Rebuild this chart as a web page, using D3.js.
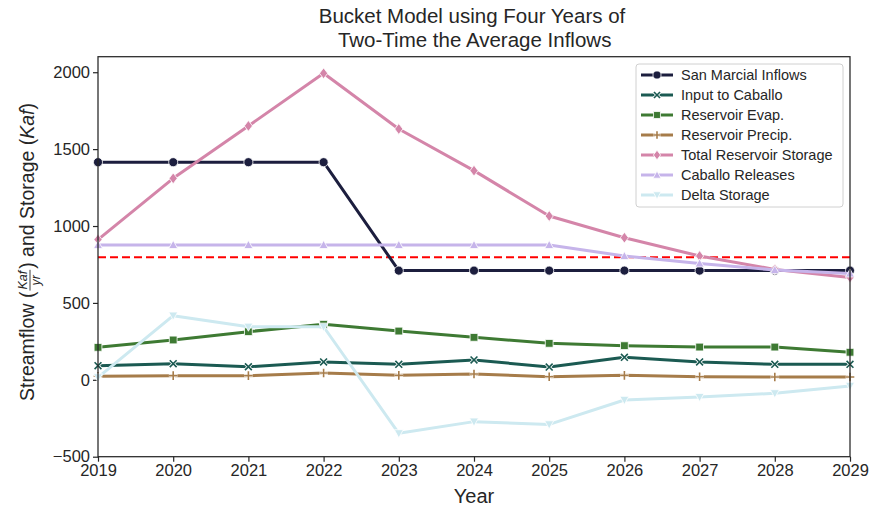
<!DOCTYPE html>
<html>
<head>
<meta charset="utf-8">
<script src="https://cdn.jsdelivr.net/npm/d3@7"></script>
<style>
  body { margin: 0; background: #fff; }
  svg { display: block; font-family: "Liberation Sans", Arial, sans-serif; }
</style>
</head>
<body>
<svg id="chart" width="870" height="512"></svg>
<script>
// Years on the x axis
const years = [2019, 2020, 2021, 2022, 2023, 2024, 2025, 2026, 2027, 2028, 2029];

// Series values (Kaf/yr for flows, Kaf for storage)
const sanMarcialInflows   = [1415, 1415, 1415, 1415, 710, 710, 710, 710, 710, 710, 710];
const inputToCaballo      = [92, 105, 85, 116, 101, 129, 83, 146, 116, 101, 101];
const reservoirEvap       = [211, 259, 313, 361, 317, 276, 237, 222, 213, 213, 179];
const reservoirPrecip     = [23, 27, 27, 44, 29, 38, 20, 29, 20, 18, 18];
const totalStorage        = [912, 1310, 1651, 1993, 1631, 1360, 1065, 924, 805, 718, 666];
const caballoReleases     = [877, 877, 877, 877, 877, 877, 877, 805, 757, 714, 692];
const deltaStorage        = [16, 417, 345, 345, -348, -272, -290, -131, -112, -88, -40];

// Threshold drawn as a dashed red line
const thresholdValue = 797;

const seriesNames = ["San Marcial Inflows", "Input to Caballo", "Reservoir Evap.",
  "Reservoir Precip.", "Total Reservoir Storage", "Caballo Releases", "Delta Storage"];
const seriesValues = [sanMarcialInflows, inputToCaballo, reservoirEvap, reservoirPrecip,
  totalStorage, caballoReleases, deltaStorage];
const seriesColors = ["#1c1e3e", "#1b5a52", "#3e7a33", "#a67c4a", "#d485a9", "#c6b4ea", "#cde9f0"];
const seriesMarkers = ["circle", "x", "square", "plus", "diamond", "triangleUp", "triangleDown"];

const yTicks = [-500, 0, 500, 1000, 1500, 2000];

const svg = d3.select("#chart");
const margin = { left: 98, right: 20, top: 56.7, bottom: 55.3 };
const W = 870, H = 512;

const x = d3.scaleLinear().domain([2019, 2029]).range([margin.left, W - margin.right]);
const y = d3.scaleLinear().domain([-500, 2101]).range([H - margin.bottom, margin.top]);

const textColor = "#262626";

// Axes
const xAxis = d3.axisBottom(x).tickValues(years).tickFormat(d3.format("d")).tickSize(5).tickPadding(3);
const yAxis = d3.axisLeft(y).tickValues(yTicks).tickFormat(d => d < 0 ? "\u2212" + Math.abs(d) : d).tickSize(5).tickPadding(3);

const gx = svg.append("g").attr("transform", `translate(0,${H - margin.bottom})`).call(xAxis);
const gy = svg.append("g").attr("transform", `translate(${margin.left},0)`).call(yAxis);
[gx, gy].forEach(g => {
  g.select(".domain").remove();
  g.selectAll(".tick line").attr("stroke", textColor).attr("stroke-width", 1.2);
  g.selectAll(".tick text").attr("fill", textColor).style("font-size", "16.5px")
    .style("font-family", "'Liberation Sans', Arial, sans-serif");
});

// Lines
const plot = svg.append("g");
const line = d3.line().x((d, i) => x(years[i])).y(d => y(d));

// Red dashed threshold
plot.append("line")
  .attr("x1", x(2019)).attr("x2", x(2029))
  .attr("y1", y(thresholdValue)).attr("y2", y(thresholdValue))
  .attr("stroke", "#ff0000").attr("stroke-width", 2).attr("stroke-dasharray", "8,4");

function markerPath(type, s) {
  switch (type) {
    case "circle": return d3.symbol(d3.symbolCircle, s * s * 0.8)();
    case "square": return d3.symbol(d3.symbolSquare, s * s * 0.75)();
    case "diamond": return `M0,${-s * 0.6}L${s * 0.45},0L0,${s * 0.6}L${-s * 0.45},0Z`;
    case "triangleUp": return `M0,${-s * 0.5}L${s * 0.5},${s * 0.4}L${-s * 0.5},${s * 0.4}Z`;
    case "triangleDown": return `M0,${s * 0.5}L${s * 0.5},${-s * 0.4}L${-s * 0.5},${-s * 0.4}Z`;
    case "x": { const a = s * 0.38; return `M${-a},${-a}L${a},${a}M${-a},${a}L${a},${-a}`; }
    case "plus": { const a = s * 0.48; return `M${-a},0L${a},0M0,${-a}L0,${a}`; }
  }
}

function drawMarker(g, type, color, cx, cy, s) {
  const p = markerPath(type, s);
  if (type === "x" || type === "plus") {
    g.append("path").attr("d", p).attr("transform", `translate(${cx},${cy})`)
      .attr("fill", "none").attr("stroke", "#fff").attr("stroke-width", 3.2);
    g.append("path").attr("d", p).attr("transform", `translate(${cx},${cy})`)
      .attr("fill", "none").attr("stroke", color).attr("stroke-width", 1.6);
  } else {
    g.append("path").attr("d", p).attr("transform", `translate(${cx},${cy})`)
      .attr("fill", color).attr("stroke", "#fff").attr("stroke-width", 0.8);
  }
}

seriesValues.forEach((vals, k) => {
  plot.append("path").datum(vals).attr("d", line)
    .attr("fill", "none").attr("stroke", seriesColors[k]).attr("stroke-width", 3)
    .attr("stroke-linejoin", "round");
  vals.forEach((v, i) => drawMarker(plot, seriesMarkers[k], seriesColors[k], x(years[i]), y(v), 9));
});

// Frame
svg.append("rect")
  .attr("x", margin.left).attr("y", margin.top)
  .attr("width", W - margin.right - margin.left).attr("height", H - margin.bottom - margin.top)
  .attr("fill", "none").attr("stroke", textColor).attr("stroke-width", 1.25);

// Legend
const lg = svg.append("g").attr("transform", "translate(636,64)");
lg.append("rect").attr("width", 207).attr("height", 143).attr("rx", 3)
  .attr("fill", "#fff").attr("fill-opacity", 0.8).attr("stroke", "#d0d0d0").attr("stroke-width", 1);
seriesNames.forEach((name, k) => {
  const cy = 11 + k * 20;
  lg.append("line").attr("x1", 5).attr("x2", 37).attr("y1", cy).attr("y2", cy)
    .attr("stroke", seriesColors[k]).attr("stroke-width", 3);
  drawMarker(lg, seriesMarkers[k], seriesColors[k], 21, cy, 8);
  lg.append("text").attr("x", 45).attr("y", cy + 5).text(name)
    .attr("fill", textColor).style("font-size", "14.5px");
});

// Title, two lines
const titleLines = ["Bucket Model using Four Years of", " Two-Time the Average Inflows"];
svg.selectAll(".title-line").data(titleLines).join("text")
  .attr("class", "title-line")
  .attr("x", 472).attr("y", (d, i) => 22.5 + i * 24)
  .attr("text-anchor", "middle").attr("fill", textColor)
  .style("font-size", "20.5px").style("white-space", "pre").text(d => d);

// X label
svg.append("text").attr("x", x(2024)).attr("y", 503).attr("text-anchor", "middle")
  .attr("fill", textColor).style("font-size", "20px").text("Year");

// Y label with a stacked Kaf/yr fraction, laid out in a rotated group
const yl = svg.append("g").attr("transform", "translate(28,252) rotate(-90)");
const fs = 19.5;
function addText(str, opts = {}) {
  const t = yl.append("text").attr("fill", textColor).style("font-size", (opts.size || fs) + "px")
    .style("font-style", opts.italic ? "italic" : "normal").text(str);
  const w = t.node().getComputedTextLength();
  return { t, w };
}
const a = addText("Streamflow (");
const num = addText("Kaf", { size: 12.5, italic: true });
const den = addText("yr", { size: 12.5, italic: true });
const b = addText(") and Storage (");
const c = addText("Kaf", { italic: true });
const d = addText(")");
const fracW = Math.max(num.w, den.w) + 4;
const total = a.w + fracW + b.w + c.w + d.w;
let pos = -total / 2;
a.t.attr("x", pos).attr("y", 6); pos += a.w;
num.t.attr("x", pos + fracW / 2).attr("y", -1).attr("text-anchor", "middle");
den.t.attr("x", pos + fracW / 2).attr("y", 12).attr("text-anchor", "middle");
yl.append("line").attr("x1", pos + 1).attr("x2", pos + fracW - 1).attr("y1", 2).attr("y2", 2)
  .attr("stroke", textColor).attr("stroke-width", 0.9);
pos += fracW;
b.t.attr("x", pos).attr("y", 6); pos += b.w;
c.t.attr("x", pos).attr("y", 6); pos += c.w;
d.t.attr("x", pos).attr("y", 6);
</script>
</body>
</html>
